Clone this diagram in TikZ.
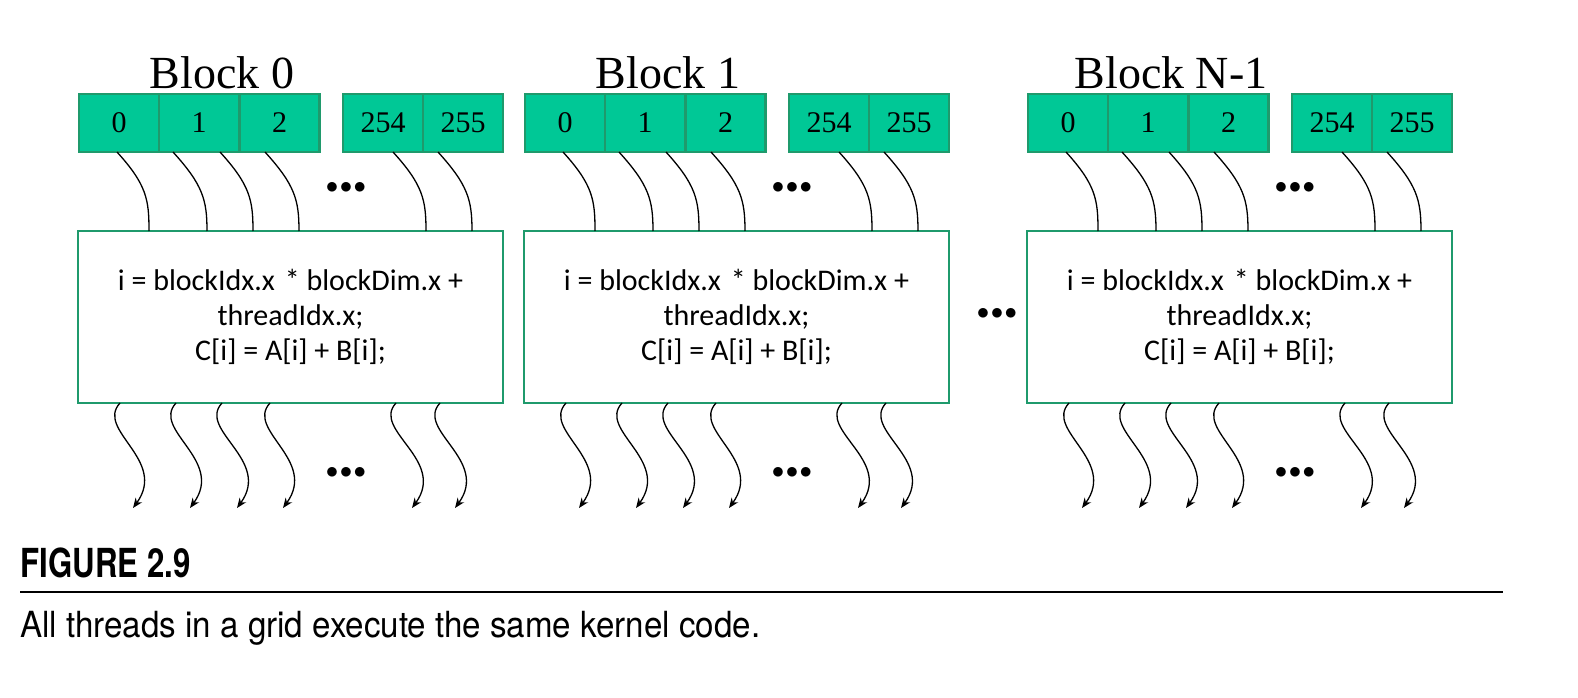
\documentclass[tikz,border=0pt]{standalone}
\usepackage{fontspec}
\setmainfont{Liberation Serif}
\newfontfamily\myCarl{Carlito}
\newfontfamily\myHeros{TeX Gyre Heros}
\usetikzlibrary{arrows.meta}
\definecolor{gfill}{HTML}{00C896}
\definecolor{gline}{HTML}{1F9A6C}
\begin{document}
\begin{tikzpicture}[x=1pt,y=-1pt,
  cell/.style={draw=gline,line width=2.5pt,fill=gfill,minimum width=80pt,minimum height=58pt,inner sep=0pt,font=\fontsize{30}{32}\selectfont},
  box/.style={draw=gline,line width=2.5pt,fill=white,minimum width=425pt,minimum height=172pt,inner sep=0pt,align=center,font=\myCarl\fontsize{30}{35}\selectfont},
  wire/.style={line width=1.3pt},
  owire/.style={line width=1.3pt,-{Stealth[length=10pt,width=8pt]}},
  dots/.style={font=\fontsize{30}{30}\selectfont}]
\useasboundingbox (0,0) rectangle (1578,698);
\foreach \o/\t/\n in {0/Block 0/a,446/Block 1/b,949/Block N-1/c}{
  \node[font=\fontsize{46}{46}\selectfont] (t\n) at (222+\o,73) {\t};
  \node[cell] (\n0) at (119+\o,123) {0};
  \node[cell] (\n1) at (199+\o,123) {1};
  \node[cell] (\n2) at (279.5+\o,123) {2};
  \node[cell] (\n3) at (383+\o,123) {254};
  \node[cell] (\n4) at (463+\o,123) {255};
  \node[box] (B\n) at (290.5+\o,317) {i = blockIdx.x\,\,* blockDim.x +\\threadIdx.x;\\C[i] = A[i] + B[i];};
  \node[dots] (du\n) at (346+\o,188) {$\bullet\!\bullet\!\bullet$};
  \node[dots] (dd\n) at (346+\o,473) {$\bullet\!\bullet\!\bullet$};
  \foreach \sx/\ex/\bx/\tx in {117/149/120/133,173/207/176/190,220/253/222/237,265/299/270/283,393/426/396/412,438/472/440/455}{
    \coordinate (s) at (\sx+\o,152);
    \coordinate (e) at (\ex+\o,231);
    \draw[wire] (s) .. controls (\sx+\o+30,185) and (\ex+\o,200) .. (e);
    \coordinate (bs) at (\bx+\o,403);
    \coordinate (be) at (\tx+\o,508);
    \draw[owire] (bs) .. controls (\bx+\o-25,430) and (\tx+\o+35,460) .. (be);
  }
}
\node[dots] (dm) at (997,314) {$\bullet\!\bullet\!\bullet$};
\node[anchor=west,font=\myHeros\bfseries\fontsize{40}{40}\selectfont,xscale=0.78] (fig) at (18,563) {FIGURE 2.9};
\coordinate (l1) at (20,592);
\coordinate (l2) at (1503,592);
\draw[line width=1.5pt] (l1) -- (l2);
\node[anchor=west,font=\myHeros\fontsize{36}{36}\selectfont,xscale=0.92] (cap) at (17,628) {All threads in a grid execute the same kernel code.};
\end{tikzpicture}
\end{document}
